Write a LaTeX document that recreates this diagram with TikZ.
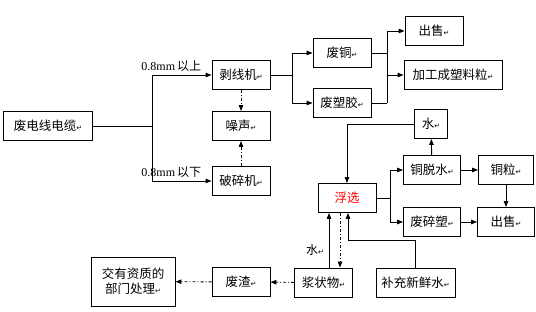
\documentclass[tikz,border=0pt]{standalone}
\usepackage{fontspec}
\setmainfont{Liberation Serif}
\newfontfamily\cjk{Noto Sans CJK SC}
\newfontfamily\symb{DejaVu Sans}
\usetikzlibrary{positioning, arrows.meta}

\newcommand{\retmark}{{\fontsize{7pt}{7pt}\symb ↵}}

\begin{document}
\begin{tikzpicture}[
        x=1pt, y=1pt,
        proc/.style={rectangle, draw, line width=0.9pt, minimum width=58pt, minimum height=29pt,
            inner sep=2pt, font=\fontsize{12.5pt}{15pt}\cjk},
        lbl/.style={inner sep=1pt, font=\fontsize{12pt}{14pt}\selectfont},
        dashdot/.style={dash pattern=on 3pt off 2pt on 1pt off 2pt},
        >={Triangle[length=6pt,width=4.5pt]}, line width=0.9pt
    ]
    \useasboundingbox (0,0) rectangle (536,312);

    %% ---- Cable sorting ----
    \node[proc, minimum width=89pt] (cable) at (48,186) {废电线电缆\retmark};
    \node[proc] (strip) at (241,237) {剥线机\retmark};
    \node[proc, below of=strip, node distance=51pt] (noise) {噪声\retmark};
    \node[proc, below of=noise, node distance=55pt] (crush) {破碎机\retmark};

    %% ---- Stripped products ----
    \node[proc] (cu) at (342,259) {废铜\retmark};
    \node[proc, below of=cu, node distance=50pt] (plastic) {废塑胶\retmark};
    \node[proc] (sell1) at (434,281) {出售\retmark};
    \node[proc, minimum width=98pt] (pellet) at (453,237) {加工成塑料粒\retmark};

    %% ---- Flotation ----
    \node[proc, minimum width=33pt] (water) at (431,188) {水\retmark};
    \node[proc, text=red] (float) at (347,114) {浮选};
    \node[proc, minimum width=57pt] (dewater) at (432,142) {铜脱水\retmark};
    \node[proc, minimum width=57pt, below of=dewater, node distance=52pt] (scrap) {废碎塑\retmark};
    \node[proc, minimum width=55pt] (grain) at (506,142) {铜粒\retmark};
    \node[proc, minimum width=57pt, below of=grain, node distance=52pt] (sell2) {出售\retmark};

    %% ---- Residue ----
    \node[proc] (slurry) at (323.5,29.5) {浆状物\retmark};
    \node[proc, minimum width=79pt] (fresh) at (415.5,29.5) {补充新鲜水\retmark};
    \node[proc] (slag) at (241,30) {废渣\retmark};
    \node[proc, minimum width=84pt, minimum height=49pt, align=center] (dept) at (133,30.5)
        {交有资质的\\部门处理\retmark};

    %% ---- Branch points ----
    \coordinate (split1) at (152,186);
    \coordinate (split2) at (292,237);
    \coordinate (split3) at (387,237);
    \coordinate (split4) at (390,114);
    \coordinate (merge) at (348,72);

    %% ---- Labels ----
    \node[lbl, anchor=south east] (above08) at ([xshift=-9pt, yshift=2pt] strip.west) {0.8mm\,{\cjk 以上}};
    \node[lbl, anchor=south east] (below08) at ([xshift=-9pt, yshift=2pt] crush.west) {0.8mm\,{\cjk 以下}};
    \node[lbl, font=\fontsize{12pt}{14pt}\cjk] (waterlbl) at (315,62) {水\retmark};

    %% ---- Connectors: sorting ----
    \draw (cable) -- (split1);
    \draw[->] (split1) |- (strip);
    \draw[->] (split1) |- (crush);
    \draw[->, dashdot] (strip) -- (noise);
    \draw[->, dashdot] (crush) -- (noise);

    %% ---- Connectors: stripped products ----
    \draw (strip) -- (split2);
    \draw[->] (split2) |- (cu);
    \draw[->] (split2) |- (plastic);
    \draw (cu.east) -- (cu.east -| split3);
    \draw (plastic.east) -- (plastic.east -| split3);
    \draw[->] (plastic.east -| split3) |- (sell1);
    \draw[->] (split3) -- (pellet);

    %% ---- Connectors: flotation ----
    \draw[->] (water.west) -| (float.north);
    \draw[->] (dewater) -- (water);
    \draw (float) -- (split4);
    \draw[->] (split4) |- (dewater);
    \draw[->] (split4) |- (scrap);
    \draw[->] (dewater) -- (grain);
    \draw[->] (scrap) -- (sell2);
    \draw[->] (grain) -- (sell2);

    %% ---- Connectors: residue ----
    \draw[->] ([xshift=5.5pt] slurry.north) -- ([xshift=5.5pt] slurry.north |- float.south);
    \draw[->, dashdot] ([xshift=-7pt] float.south) -- ([xshift=-7pt] float.south |- slurry.north);
    \draw[->] (fresh.north) |- (merge) -- (merge |- float.south);
    \draw[->, dashdot] (slurry) -- (slag);
    \draw[->, dashdot] (slag) -- (dept);

\end{tikzpicture}
\end{document}
